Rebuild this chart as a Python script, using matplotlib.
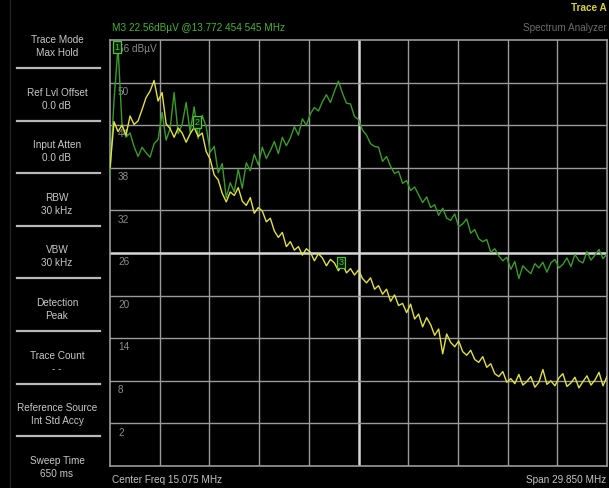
import numpy as np
import matplotlib
matplotlib.use("Agg")
import matplotlib.pyplot as plt
from matplotlib.transforms import blended_transform_factory

# ---- sweep settings ----
f_start, f_stop = 0.15, 30.0          # MHz
ref_level, db_per_div = 56, 6          # dBuV
n_div = 10

# ---- trace values (dBuV) ----
yellow_trace = [
    38.0, 44.5, 43.1, 44.0, 42.6, 45.3, 44.1, 44.6, 46.2, 47.9,
    48.8, 50.3, 47.4, 48.6, 44.2, 43.5, 42.3, 43.6, 42.9, 41.6,
    42.8, 43.7, 42.4, 42.9, 40.3, 39.2, 37.0, 36.3, 34.4, 33.2,
    34.6, 34.1, 35.2, 33.3, 32.7, 33.8, 31.6, 32.4, 31.9, 30.4,
    30.9, 29.1, 28.2, 28.9, 26.9, 27.6, 26.4, 26.9, 25.7, 26.6,
    26.1, 24.9, 25.9, 25.3, 24.2, 25.1, 24.6, 23.5, 24.5, 23.2,
    23.8, 22.9, 23.6, 22.4, 21.8, 22.5, 20.9, 21.4, 20.2, 20.9,
    19.2, 20.1, 18.6, 18.9, 17.6, 18.8, 16.7, 17.4, 15.6, 16.9,
    15.9, 14.4, 15.3, 11.8, 14.6, 13.4, 12.8, 13.6, 12.1, 11.6,
    12.3, 11.0, 10.6, 11.4, 9.9, 10.4, 9.0, 8.6, 9.3, 7.8,
    8.3, 7.6, 8.9, 7.4, 7.9, 8.6, 7.1, 7.8, 9.6, 7.5,
    8.0, 7.3, 8.4, 9.0, 7.2, 7.7, 8.5, 7.0, 7.9, 8.7,
    7.4, 8.1, 9.2, 7.3, 8.6,
]
green_trace = [
    37.0, 47.5, 55.0, 44.0, 42.3, 42.9, 41.0, 39.6, 40.9, 40.1,
    39.5, 41.4, 42.0, 45.8, 41.9, 43.5, 48.6, 42.8, 44.1, 47.2,
    43.0, 46.6, 42.1, 45.4, 43.8, 40.2, 41.0, 37.3, 38.6, 33.8,
    35.9, 34.6, 37.8, 35.1, 38.7, 37.6, 39.9, 38.4, 40.9, 39.3,
    40.4, 41.7, 40.0, 42.3, 41.1, 42.2, 43.8, 42.6, 44.9, 44.0,
    45.6, 46.5, 46.0, 47.3, 48.3, 47.2, 48.8, 50.2, 48.5, 47.1,
    47.0, 45.2, 44.8, 43.3, 42.6, 41.4, 41.0, 40.9, 38.9, 39.6,
    38.2, 37.2, 37.5, 35.8, 36.2, 34.8, 35.3, 34.2, 33.1, 33.9,
    32.4, 32.8, 31.3, 32.3, 30.9, 30.6, 31.5, 29.7, 30.1, 30.8,
    28.8, 29.3, 28.0, 27.6, 27.9, 26.1, 26.6, 25.6, 24.9, 25.4,
    23.7, 24.8, 22.4, 24.2, 23.6, 23.1, 24.5, 23.9, 24.7, 23.3,
    24.6, 25.1, 23.9, 24.4, 25.3, 24.1, 25.8, 24.9, 24.6, 26.2,
    25.0, 25.7, 26.5, 25.2, 25.9,
]

# markers: label, freq (MHz), level (dBuV)
marker_labels = ["1", "2", "3"]
marker_freqs = [0.45, 5.37, 13.772]
marker_levels = [55.0, 44.0, 22.56]

softkeys = [
    ("Trace Mode", "Max Hold"),
    ("Ref Lvl Offset", "0.0 dB"),
    ("Input Atten", "0.0 dB"),
    ("RBW", "30 kHz"),
    ("VBW", "30 kHz"),
    ("Detection", "Peak"),
    ("Trace Count", "- -"),
    ("Reference Source", "Int Std Accy"),
    ("Sweep Time", "650 ms"),
]

W, H = 609, 488
fig = plt.figure(figsize=(W / 100, H / 100), dpi=100, facecolor="black")


def fx(px):
    return px / W


def fy(py):
    return 1 - py / H


FONT = "Liberation Sans"
GRID = "#9a9a9a"

# ---- graticule ----
ax = fig.add_axes([fx(110), fy(466), fx(607) - fx(110), fy(40) - fy(466)])
ax.set_facecolor("black")
y_bottom = ref_level - n_div * db_per_div
ax.set_xlim(f_start, f_stop)
ax.set_ylim(y_bottom, ref_level)
ax.set_xticks([])
ax.set_yticks([])
for s in ax.spines.values():
    s.set_color(GRID)
    s.set_linewidth(1.2)

xdiv = np.linspace(f_start, f_stop, n_div + 1)
ydiv = np.arange(y_bottom, ref_level + 1, db_per_div)
for xv in xdiv[1:-1]:
    bright = abs(xv - (f_start + f_stop) / 2) < 1e-6
    ax.axvline(xv, color="#d8d8d8" if bright else GRID, lw=1.8 if bright else 1.0, zorder=1)
for yv in ydiv[1:-1]:
    bright = yv == 26
    ax.axhline(yv, color="#d8d8d8" if bright else GRID, lw=1.8 if bright else 1.0, zorder=1)

# level labels inside the graticule
tr = blended_transform_factory(ax.transAxes, ax.transData)
for yv in ydiv[1:][::-1]:
    txt = f"{yv} dBµV" if yv == ref_level else f"{yv}"
    ax.text(0.016, yv - 1.3, txt, transform=tr, color="#8c8c8c", fontsize=7.2,
            family=FONT, va="center", ha="left", zorder=2)

freqs = np.linspace(f_start, f_stop, len(green_trace))
ax.plot(freqs, green_trace, color="#3c9a2c", lw=1.0, zorder=3)
ax.plot(freqs, yellow_trace, color="#e2e048", lw=1.0, zorder=4)

offsets = [(2, 0), (0, 3), (4, 15)]   # box offset from marker point, pixels
for lab, mf, ml, off in zip(marker_labels, marker_freqs, marker_levels, offsets):
    ax.annotate(lab, (mf, ml), xytext=off, textcoords="offset pixels",
                color="#4fc23c", fontsize=6.5, family=FONT,
                ha="center", va="center", zorder=6,
                bbox=dict(boxstyle="square,pad=0.15", fc="#0a1a08", ec="#4fc23c", lw=0.9))

# ---- header / footer ----
fig.text(fx(112), fy(28), "M3 22.56dBµV @13.772 454 545 MHz", color="#4cae38",
         fontsize=7.2, family=FONT, va="center", ha="left")
fig.text(fx(607), fy(8), "Trace A", color="#d6d23a", fontsize=7.2, family=FONT,
         va="center", ha="right", fontweight="bold")
fig.text(fx(607), fy(28), "Spectrum Analyzer", color="#6c6c6c", fontsize=7.2,
         family=FONT, va="center", ha="right")
fig.text(fx(112), fy(480), "Center Freq 15.075 MHz", color="#c4c4c4", fontsize=7.2,
         family=FONT, va="center", ha="left")
fig.text(fx(606), fy(480), "Span 29.850 MHz", color="#c4c4c4", fontsize=7.2,
         family=FONT, va="center", ha="right")

# ---- soft key panel ----
key_top, key_step = 46, 52.6
for i, (l1, l2) in enumerate(softkeys):
    yc = key_top + i * key_step
    fig.text(fx(57), fy(yc - 6), l1, color="#c8c8c8", fontsize=7.2, family=FONT,
             ha="center", va="center")
    fig.text(fx(57), fy(yc + 7), l2, color="#c8c8c8", fontsize=7.2, family=FONT,
             ha="center", va="center")
    if i < len(softkeys) - 1:
        ly = yc + 22
        fig.add_artist(plt.Line2D([fx(17), fx(100)], [fy(ly), fy(ly)],
                                  color="#b8b8b8", lw=1.6))

fig.add_artist(plt.Line2D([fx(10), fx(10)], [fy(0), fy(488)], color="#222222", lw=1.0))

fig.savefig("out.png", dpi=100, facecolor="black")
